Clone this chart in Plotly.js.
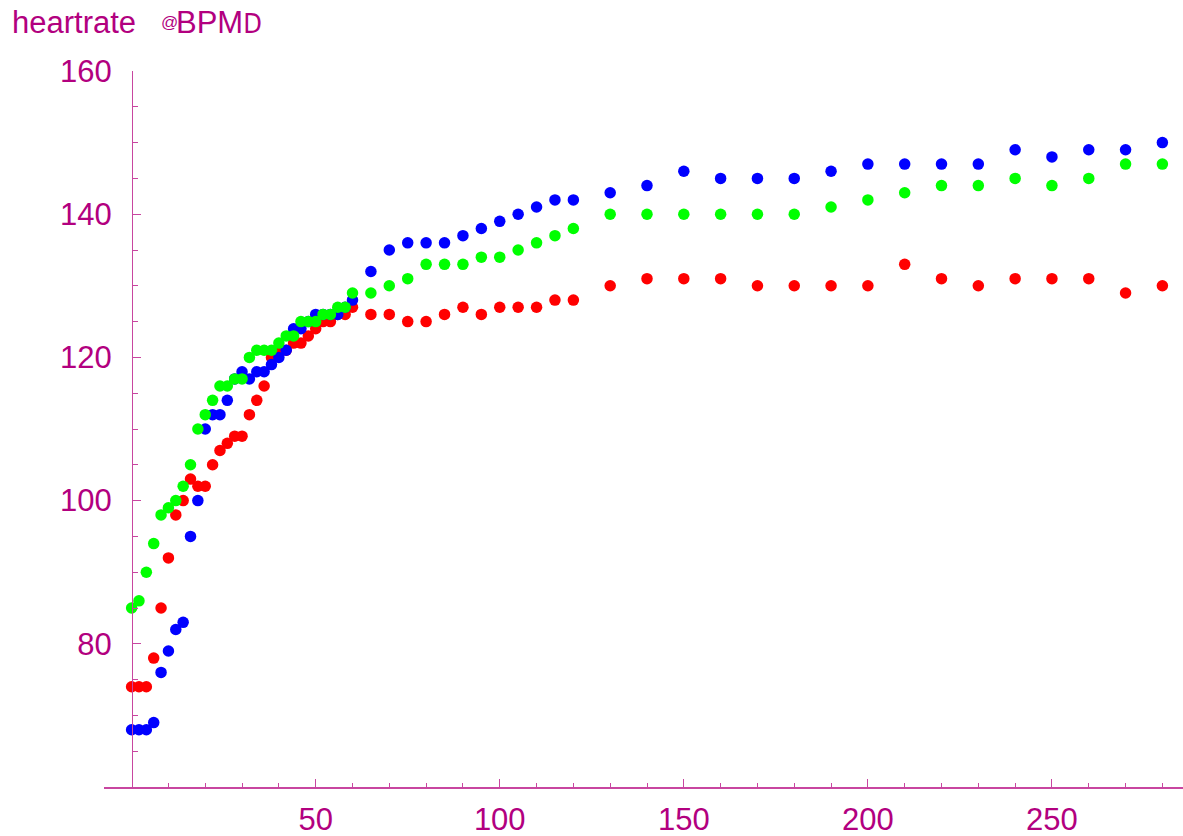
<!DOCTYPE html>
<html>
<head>
<meta charset="utf-8">
<script src="https://cdn.plot.ly/plotly-3.0.1.min.js"></script>
<style>
  html, body { margin: 0; padding: 0; background: #ffffff; }
  #chart { width: 1183px; height: 836px; }
</style>
</head>
<body>
<div id="chart"></div>
<script>
// Elapsed time (s) at which heart rate was sampled
const timeSec = [
  0, 2, 4, 6, 8, 10, 12, 14, 16, 18, 20, 22, 24, 26, 28, 30,
  32, 34, 36, 38, 40, 42, 44, 46, 48, 50, 52, 54, 56, 58, 60,
  65, 70, 75, 80, 85, 90, 95, 100, 105, 110, 115, 120,
  130, 140, 150, 160, 170, 180, 190, 200, 210, 220, 230, 240, 250, 260, 270, 280
];

// Heart rate readings (BPM), one series per subject
const rateRed = [
  74, 74, 74, 78, 85, 92, 98, 100, 103, 102, 102, 105, 107, 108, 109, 109,
  112, 114, 116, 120, 121, 121, 122, 122, 123, 124, 125, 125, 126, 126, 127,
  126, 126, 125, 125, 126, 127, 126, 127, 127, 127, 128, 128,
  130, 131, 131, 131, 130, 130, 130, 130, 133, 131, 130, 131, 131, 131, 129, 130
];
const rateBlue = [
  68, 68, 68, 69, 76, 79, 82, 83, 95, 100, 110, 112, 112, 114, 117, 118,
  117, 118, 118, 119, 120, 121, 124, 124, 125, 126, 126, 126, 126, 127, 128,
  132, 135, 136, 136, 136, 137, 138, 139, 140, 141, 142, 142,
  143, 144, 146, 145, 145, 145, 146, 147, 147, 147, 147, 149, 148, 149, 149, 150
];
const rateGreen = [
  85, 86, 90, 94, 98, 99, 100, 102, 105, 110, 112, 114, 116, 116, 117, 117,
  120, 121, 121, 121, 122, 123, 123, 125, 125, 125, 126, 126, 127, 127, 129,
  129, 130, 131, 133, 133, 133, 134, 134, 135, 136, 137, 138,
  140, 140, 140, 140, 140, 140, 141, 142, 143, 144, 144, 145, 144, 145, 147, 147
];

// Axis tick labels
const xTicks = [50, 100, 150, 200, 250];
const xMinor = [10, 20, 30, 40, 60, 70, 80, 90, 110, 120, 130, 140,
                160, 170, 180, 190, 210, 220, 230, 240, 260, 270, 280];
const yTicks = [80, 100, 120, 140, 160];

const ink = 'rgb(178,0,127)';
const axisInk = 'rgb(200,70,160)';
const fontFamily = 'Liberation Sans, Arial, sans-serif';
const font = { family: fontFamily, size: 31, color: ink };

// plot-area geometry in pixels, used to place the axis label pieces
const M = { l: 104, r: 0, t: 71, b: 49 };
const plotW = 1183 - M.l - M.r;
const plotH = 836 - M.t - M.b;
const px = v => (v - M.l) / plotW;
const py = v => 1 + (M.t - v) / plotH;

function series(y, color) {
  return {
    x: timeSec, y: y, type: 'scatter', mode: 'markers',
    marker: { color: color, size: 11.5, line: { width: 0 } },
    hoverinfo: 'x+y', cliponaxis: false
  };
}

const data = [
  series(rateRed, 'rgb(255,0,0)'),
  series(rateBlue, 'rgb(0,0,255)'),
  series(rateGreen, 'rgb(0,255,0)')
];

function label(text, x, yBottom, size, family) {
  return {
    xref: 'paper', yref: 'paper', x: px(x), y: py(yBottom),
    xanchor: 'left', yanchor: 'bottom', showarrow: false,
    borderpad: 0,
    font: { family: family || fontFamily, size: size, color: ink },
    text: text
  };
}

const layout = {
  width: 1183, height: 836,
  margin: { l: M.l, r: M.r, t: M.t, b: M.b, pad: 0 },
  paper_bgcolor: '#ffffff', plot_bgcolor: '#ffffff',
  showlegend: false,
  font: font,
  xaxis: {
    range: [-7.5, 285.6],
    showgrid: false, zeroline: false,
    showline: true, linecolor: axisInk, linewidth: 1.5,
    ticks: 'inside', ticklen: 8, tickwidth: 1, tickcolor: axisInk,
    tickmode: 'array', tickvals: xTicks, ticktext: xTicks.map(String),
    ticklabelstandoff: 4,
    minor: { ticks: 'inside', ticklen: 4.5, tickwidth: 1, tickcolor: axisInk,
             tickmode: 'array', tickvals: xMinor },
    tickfont: font
  },
  yaxis: {
    range: [60, 160],
    anchor: 'free', position: px(132),
    showgrid: false, zeroline: false,
    showline: true, linecolor: axisInk, linewidth: 1,
    ticks: 'inside', ticklen: 8, tickwidth: 1, tickcolor: axisInk,
    tickmode: 'array', tickvals: yTicks, ticktext: yTicks.map(String),
    ticklabelstandoff: 14,
    minor: { ticks: 'inside', ticklen: 4.5, tickwidth: 1, tickcolor: axisInk, dtick: 5 },
    tickfont: font
  },
  annotations: [
    label('heartrate', 11, 41, 31),
    label('@', 160, 33, 17),
    label('BPM<span style="font-family:Liberation Sans Narrow, DejaVu Sans Condensed, sans-serif;font-size:27px">D</span>', 175, 41, 31)
  ]
};

Plotly.newPlot('chart', data, layout, { staticPlot: true, displayModeBar: false });
</script>
</body>
</html>
